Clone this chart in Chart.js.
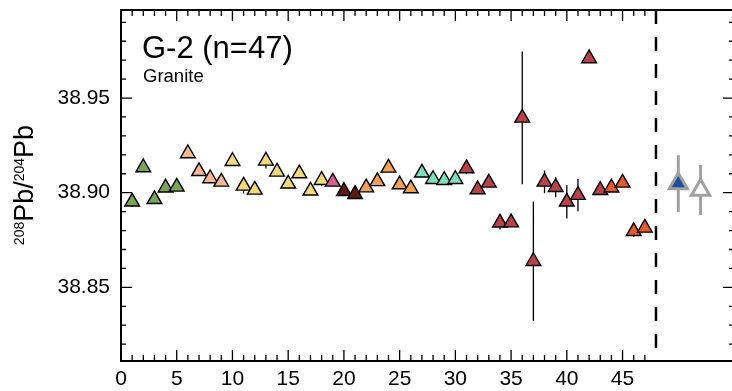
<!DOCTYPE html>
<html><head><meta charset="utf-8">
<script src="https://cdn.jsdelivr.net/npm/chart.js@4/dist/chart.umd.min.js"></script>
<style>html,body{margin:0;padding:0;overflow:hidden;background:#fff}canvas{display:block}</style>
</head><body>
<canvas id="c" width="740" height="391"></canvas>
<script>
// ---- data ----
const sampleNo = [1,2,3,4,5,6,7,8,9,10,11,12,13,14,15,16,17,18,19,20,21,22,23,24,25,26,27,28,29,30,31,32,33,34,35,36,37,38,39,40,41,42,43,44,45,46,47];
const pb208_204 = [
  38.8952, 38.9133, 38.8965, 38.9026, 38.9031,
  38.9207, 38.9113, 38.9075, 38.9057,
  38.9166, 38.9036, 38.9015, 38.9168, 38.9110, 38.9047, 38.9101, 38.9010, 38.9066,
  38.9057,
  38.9008, 38.8992,
  38.9027, 38.9060, 38.9131, 38.9043, 38.9022,
  38.9105, 38.9071, 38.9066, 38.9071,
  38.9128, 38.9017, 38.9052, 38.8841, 38.8842, 38.9395, 38.8638, 38.9057, 38.9029, 38.8952, 38.8987, 38.9709, 38.9013,
  38.9026, 38.9052, 38.8796, 38.8814
];
const err2s = [
  0.0028, 0.002, 0.002, 0.002, 0.002,
  0.002, 0.002, 0.002, 0.002,
  0.002, 0.004, 0.002, 0.004, 0.002, 0.002, 0.002, 0.002, 0.003,
  0.002,
  0.002, 0.002,
  0.002, 0.002, 0.002, 0.002, 0.002,
  0.002, 0.002, 0.002, 0.002,
  0.003, 0.002, 0.002, 0.0035, 0.002, 0.0351, 0.0315, 0.006, 0.0053, 0.0088, 0.0085, 0.002, 0.002,
  0.002, 0.002, 0.003, 0.002
];
const session = [
  'a','a','a','a','a',
  'b','b','b','b',
  'c','c','c','c','c','c','c','c','c',
  'd',
  'e','e',
  'f','f','f','f','f',
  'g','g','g','g',
  'h','h','h','h','h','h','h','h','h','h','h','h','h',
  'i','i','i','i'
];
const refX = [50, 52];
const refY = [38.9048, 38.9014];
const refErr = [0.0150, 0.0132];
const dividerX = 48;
const xTickLabels = [0,5,10,15,20,25,30,35,40,45];
const yTickLabels = [38.85, 38.90, 38.95];
const titleText = 'G-2 (n=47)';
const subtitleText = 'Granite';

// ---- styles ----
const FONT = "'Liberation Sans', Arial, Helvetica, sans-serif";
const palette = {a:'#7aa458', b:'#f7b694', c:'#efdb7e', d:'#d45f8c', e:'#5a1c14', f:'#f2a055', g:'#7fdfbd', h:'#b6434b', i:'#e55a2c'};

const framePlugin = {
  id: 'frame',
  beforeDatasetsDraw(chart) {
    const {ctx, chartArea: a, scales: {x, y}} = chart;
    ctx.save();
    ctx.strokeStyle = '#000'; ctx.lineWidth = 1.3;
    sampleNo.forEach((s, i) => {
      const px = x.getPixelForValue(s);
      ctx.beginPath();
      ctx.moveTo(px, y.getPixelForValue(pb208_204[i] + err2s[i]));
      ctx.lineTo(px, y.getPixelForValue(pb208_204[i] - err2s[i]));
      ctx.stroke();
    });
    ctx.strokeStyle = '#a0a0a0'; ctx.lineWidth = 3;
    refX.forEach((s, i) => {
      const px = x.getPixelForValue(s);
      ctx.beginPath();
      ctx.moveTo(px, y.getPixelForValue(refY[i] + refErr[i]));
      ctx.lineTo(px, y.getPixelForValue(refY[i] - refErr[i]));
      ctx.stroke();
    });
    ctx.restore();
  },
  afterDraw(chart) {
    const {ctx, chartArea: a, scales: {x, y}} = chart;
    ctx.save();
    ctx.strokeStyle = '#000';
    ctx.lineCap = 'butt';
    ctx.lineWidth = 2;
    ctx.beginPath();
    ctx.moveTo(a.left, a.top); ctx.lineTo(a.left, a.bottom);
    ctx.moveTo(a.left - 1, a.bottom); ctx.lineTo(a.right + 1, a.bottom);
    ctx.moveTo(a.left - 1, a.top); ctx.lineTo(a.right + 1, a.top);
    ctx.moveTo(a.right, a.top); ctx.lineTo(a.right, a.bottom);
    ctx.stroke();
    ctx.lineWidth = 1.3;
    ctx.beginPath();
    for (let k = Math.ceil(y.min * 100); k <= Math.floor(y.max * 100); k++) {
      const py = y.getPixelForValue(k / 100);
      const len = (k % 5 === 0) ? 11 : 5;
      ctx.moveTo(a.left, py); ctx.lineTo(a.left + len, py);
      ctx.moveTo(a.right, py); ctx.lineTo(a.right - len, py);
    }
    for (let k = 1; k < dividerX; k++) {
      const px = x.getPixelForValue(k);
      const len = (k % 5 === 0) ? 11 : 6;
      ctx.moveTo(px, a.bottom); ctx.lineTo(px, a.bottom - len);
      ctx.moveTo(px, a.top); ctx.lineTo(px, a.top + len);
    }
    ctx.stroke();
    ctx.lineWidth = 2.5;
    ctx.setLineDash([14, 13]);
    const dx = x.getPixelForValue(dividerX);
    ctx.beginPath(); ctx.moveTo(dx, a.top); ctx.lineTo(dx, a.bottom); ctx.stroke();
    ctx.setLineDash([]);
    ctx.fillStyle = '#000';
    ctx.textBaseline = 'alphabetic';
    ctx.textAlign = 'left';
    ctx.font = '31px ' + FONT;
    ctx.fillText(titleText, 142, 57.5);
    ctx.font = '18.5px ' + FONT;
    ctx.fillText(subtitleText, 143, 82);
    ctx.translate(33, 185);
    ctx.rotate(-Math.PI / 2);
    const parts = [['208', true], ['Pb', false], ['/', false], ['204', true], ['Pb', false]];
    const big = '27px ' + FONT, sm = '14px ' + FONT;
    let total = 0;
    parts.forEach(([t, sup]) => { ctx.font = sup ? sm : big; total += ctx.measureText(t).width; });
    let cx = -total / 2;
    parts.forEach(([t, sup]) => {
      ctx.font = sup ? sm : big;
      ctx.fillText(t, cx, sup ? -9.3 : 0);
      cx += ctx.measureText(t).width;
    });
    ctx.restore();
  }
};

new Chart(document.getElementById('c'), {
  type: 'scatter',
  data: {
    datasets: [
      {
        data: refX.map((v, i) => ({x: v, y: refY[i]})),
        pointStyle: 'triangle',
        pointRadius: 10.5,
        pointBackgroundColor: ['#1f4e9c', '#ffffff'],
        pointBorderColor: '#a0a0a0',
        pointBorderWidth: 3,
        order: 2
      },
      {
        data: sampleNo.map((v, i) => ({x: v, y: pb208_204[i]})),
        pointStyle: 'triangle',
        pointRadius: 8.5,
        pointBackgroundColor: session.map(g => palette[g]),
        pointBorderColor: '#000',
        pointBorderWidth: 1.4,
        order: 1
      }
    ]
  },
  options: {
    responsive: false,
    animation: false,
    devicePixelRatio: 1,
    layout: {autoPadding: false, padding: {top: 10, right: 6, left: 0, bottom: 0}},
    plugins: {legend: {display: false}, tooltip: {enabled: false}},
    scales: {
      x: {
        type: 'linear', min: 0, max: 55,
        afterBuildTicks: s => { s.ticks = xTickLabels.map(v => ({value: v})); },
        afterFit: s => { s.height = 30; },
        grid: {display: false, drawTicks: false},
        border: {display: false},
        ticks: {font: {family: FONT, size: 21}, color: '#000', padding: 6, maxRotation: 0, autoSkip: false, callback: v => String(v)}
      },
      y: {
        type: 'linear', min: 38.8111, max: 38.9965,
        afterBuildTicks: s => { s.ticks = yTickLabels.map(v => ({value: v})); },
        afterFit: s => { s.width = 121; s.paddingTop = 0; s.paddingBottom = 0; },
        grid: {display: false, drawTicks: false},
        border: {display: false},
        ticks: {font: {family: FONT, size: 21, lineHeight: 0.8}, color: '#000', padding: 11, autoSkip: false, callback: v => v.toFixed(2)}
      }
    }
  },
  plugins: [framePlugin]
});
</script>
</body></html>
